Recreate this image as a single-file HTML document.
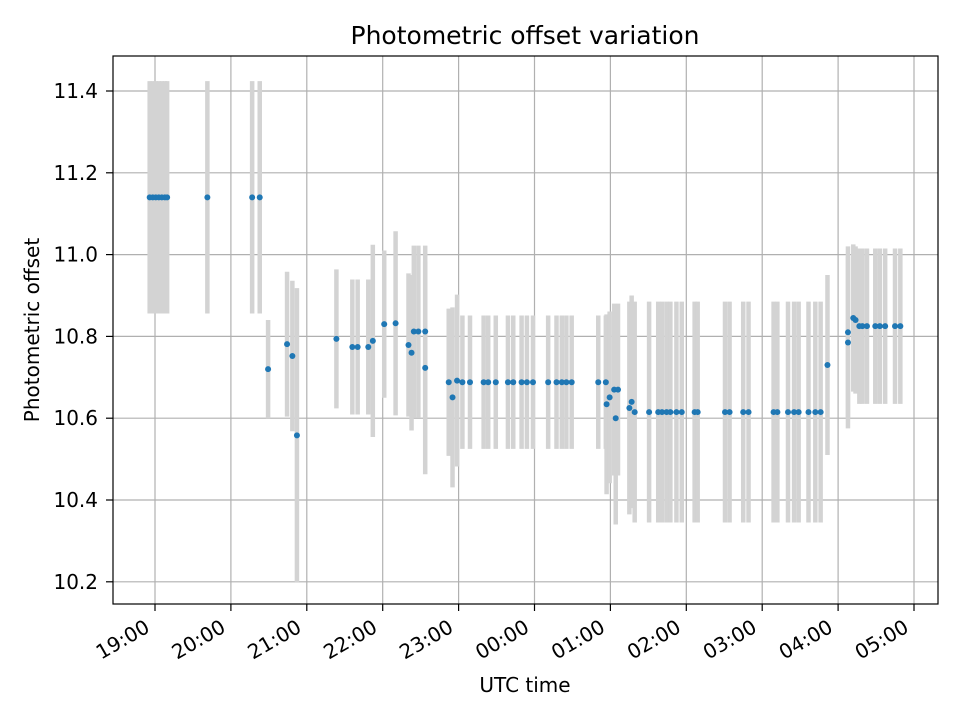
<!DOCTYPE html>
<html><head><meta charset="utf-8"><style>
html,body{margin:0;padding:0;background:#fff;}
svg{display:block;font-family:"DejaVu Sans","Liberation Sans",sans-serif;}
</style></head><body>
<svg id="chart" width="960" height="720" viewBox="0 0 960 720" xmlns="http://www.w3.org/2000/svg">
<rect x="0" y="0" width="960" height="720" fill="#fff"/>
<text x="525" y="44" text-anchor="middle" font-size="25" fill="#000">Photometric offset variation</text>
<g id="grid"></g>
<g id="errs"></g>
<g id="pts"></g>
<rect x="113" y="56" width="825" height="548" fill="none" stroke="#000" stroke-width="1.2"/>
<g id="ticks"></g>
<text x="525" y="692" text-anchor="middle" font-size="20">UTC time</text>
<text x="39" y="330" text-anchor="middle" font-size="20" transform="rotate(-90 39 330)">Photometric offset</text>
</svg>
<script>
// hours since 19:00 UTC
const times = [-0.07,-0.03,0.01,0.05,0.09,0.13,0.16,0.69,1.28,1.38,1.49,1.74,1.81,1.87,2.39,2.60,2.67,2.81,2.87,3.02,3.17,3.34,3.38,3.41,3.47,3.56,3.56,3.87,3.92,3.98,4.05,4.15,4.33,4.39,4.49,4.65,4.72,4.83,4.90,4.98,5.18,5.29,5.36,5.42,5.49,5.84,5.94,5.95,5.99,6.05,6.07,6.10,6.25,6.28,6.32,6.51,6.63,6.68,6.74,6.79,6.87,6.94,7.11,7.15,7.51,7.57,7.75,7.82,8.15,8.20,8.34,8.42,8.48,8.61,8.70,8.77,8.86,9.13,9.13,9.20,9.23,9.28,9.32,9.38,9.49,9.55,9.62,9.75,9.82];
const offsets = [11.14,11.14,11.14,11.14,11.14,11.14,11.14,11.14,11.14,11.14,10.72,10.781,10.752,10.558,10.794,10.774,10.774,10.774,10.789,10.83,10.832,10.779,10.76,10.812,10.812,10.812,10.723,10.688,10.651,10.692,10.688,10.688,10.688,10.688,10.688,10.688,10.688,10.688,10.688,10.688,10.688,10.688,10.688,10.688,10.688,10.688,10.688,10.634,10.651,10.67,10.6,10.67,10.625,10.64,10.615,10.615,10.615,10.615,10.615,10.615,10.615,10.615,10.615,10.615,10.615,10.615,10.615,10.615,10.615,10.615,10.615,10.615,10.615,10.615,10.615,10.615,10.73,10.785,10.81,10.845,10.84,10.825,10.825,10.825,10.825,10.825,10.825,10.825,10.825];
const errors = [0.284,0.284,0.284,0.284,0.284,0.284,0.284,0.284,0.284,0.284,0.12,0.177,0.184,0.36,0.17,0.165,0.165,0.165,0.235,0.18,0.225,0.175,0.19,0.21,0.21,0.21,0.26,0.18,0.22,0.21,0.163,0.163,0.163,0.163,0.163,0.163,0.163,0.163,0.163,0.163,0.163,0.163,0.163,0.163,0.163,0.163,0.163,0.22,0.21,0.21,0.26,0.21,0.26,0.26,0.27,0.27,0.27,0.27,0.27,0.27,0.27,0.27,0.27,0.27,0.27,0.27,0.27,0.27,0.27,0.27,0.27,0.27,0.27,0.27,0.27,0.27,0.22,0.21,0.21,0.18,0.18,0.19,0.19,0.19,0.19,0.19,0.19,0.19,0.19];
const yTicks = [10.2,10.4,10.6,10.8,11.0,11.2,11.4];
const xTickHours = [0,1,2,3,4,5,6,7,8,9,10];
const xTickLabels = ["19:00","20:00","21:00","22:00","23:00","00:00","01:00","02:00","03:00","04:00","05:00"];

const NS = "http://www.w3.org/2000/svg";
const X0 = 113, X1 = 938, Y0 = 56, Y1 = 604;
function xs(h){ return 155 + h * 75.9; }
function ys(v){ return 91 + (11.4 - v) * 409; }
function mk(tag, attrs, parent){
  const e = document.createElementNS(NS, tag);
  for (const k in attrs) e.setAttribute(k, attrs[k]);
  parent.appendChild(e);
  return e;
}
const grid = document.getElementById('grid');
const ticks = document.getElementById('ticks');
yTicks.forEach(v => {
  const y = ys(v);
  const g = mk('line', {x1:X0, x2:X1, y1:y, y2:y, stroke:'#b0b0b0', 'stroke-width':1.2}, grid);
  
  
  mk('line', {x1:X0-7, x2:X0, y1:y, y2:y, stroke:'#000', 'stroke-width':1.2}, ticks);
  const t = mk('text', {x:X0-15, y:y+7, 'text-anchor':'end', 'font-size':20}, ticks);
  t.textContent = v.toFixed(1);
  
  
});
xTickHours.forEach((h, i) => {
  const x = xs(h);
  const g = mk('line', {x1:x, x2:x, y1:Y0, y2:Y1, stroke:'#b0b0b0', 'stroke-width':1.2}, grid);
  
  
  mk('line', {x1:x, x2:x, y1:Y1, y2:Y1+7, stroke:'#000', 'stroke-width':1.2}, ticks);
  const tx = x - 4, ty = Y1 + 27;
  const t = mk('text', {x:tx, y:ty, 'text-anchor':'end', 'font-size':20, transform:`rotate(-30 ${tx} ${ty})`}, ticks);
  t.textContent = xTickLabels[i];
  
  
});
const errs = document.getElementById('errs');
const pts = document.getElementById('pts');
times.forEach((h, i) => {
  const x = xs(h);
  const l = mk('line', {x1:x, x2:x, y1:ys(offsets[i]+errors[i]), y2:ys(offsets[i]-errors[i]), stroke:'#d3d3d3', 'stroke-width':4.5}, errs);
  
  
});
times.forEach((h, i) => {
  const c = mk('circle', {cx:xs(h), cy:ys(offsets[i]), r:3, fill:'#1f77b4'}, pts);
  
  
});
</script>
</body></html>
